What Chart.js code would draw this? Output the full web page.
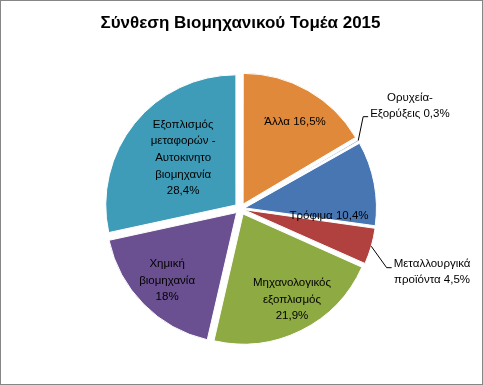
<!DOCTYPE html>
<html><head><meta charset="utf-8">
<script src="https://cdn.jsdelivr.net/npm/chart.js@4/dist/chart.umd.min.js"></script>
<style>
html,body{margin:0;padding:0;background:#fff;}
#wrap{position:relative;width:483px;height:385px;box-sizing:border-box;border:1px solid #868686;background:#fff;}
canvas{display:block;}
</style></head><body>
<div id="wrap"><canvas id="c" width="481" height="383"></canvas></div>
<script>
// ---- data ----
const categories = ["Άλλα", "Ορυχεία-Εξορύξεις", "Τρόφιμα", "Μεταλλουργικά προϊόντα", "Μηχανολογικός εξοπλισμός", "Χημική βιομηχανία", "Εξοπλισμός μεταφορών - Αυτοκινητο βιομηχανία"];
const values = [16.5, 0.3, 10.4, 4.5, 21.9, 18, 28.4];
const labelLines = [
  ["Άλλα 16,5%"],
  ["Ορυχεία-", "Εξορύξεις 0,3%"],
  ["Τρόφιμα 10,4%"],
  ["Μεταλλουργικά", "προϊόντα 4,5%"],
  ["Μηχανολογικός", "εξοπλισμός", "21,9%"],
  ["Χημική", "βιομηχανία", "18%"],
  ["Εξοπλισμός", "μεταφορών -", "Αυτοκινητο", "βιομηχανία", "28,4%"]
];
const titleText = "Σύνθεση Βιομηχανικού Τομέα 2015";

// ---- styling / layout ----
const colors = ["#E0893B", "#9DB8DC", "#4876B2", "#B0413E", "#8EAA42", "#6B5091", "#3F9CB9"];
const explode = 6; // desired visual explosion in px
// Chart.js draws offset/4 plus an extra for thin slices; compensate so all slices move ~explode px
const total = values.reduce((s, v) => s + v, 0);
const offsets = values.map(v => {
  const c = v / total * 2 * Math.PI;
  const fix = 1 - Math.sin(Math.min(Math.PI, c));
  return 4 * explode / (1 + fix);
});
// label placement: polar (deg clockwise from top, fraction of outer radius)
const placement = [
  {a: 32.1, r: 0.79},
  {a: 58.7, r: 1.525, leader: true, leaderDy: 11},
  {a: 94.5, r: 0.683},
  {a: 108.2, r: 1.551, leader: true, leaderDy: -4},
  {a: 150.5, r: 0.804},
  {a: 225.6, r: 0.79},
  {a: 311.6, r: 0.59}
];
const labelFont = "11.5px 'Liberation Sans', Arial, sans-serif";
const lineH = 16.6;

const labelPlugin = {
  id: 'pieLabels',
  afterDatasetsDraw(chart) {
    const ctx = chart.ctx;
    const meta = chart.getDatasetMeta(0);
    ctx.save();
    ctx.font = labelFont;
    ctx.fillStyle = "#000";
    ctx.textAlign = "center";
    ctx.textBaseline = "middle";
    meta.data.forEach((arc, i) => {
      const p = arc.getProps(['x', 'y', 'startAngle', 'endAngle', 'outerRadius'], true);
      const R = p.outerRadius;
      const pl = placement[i];
      const ang = pl.a * Math.PI / 180;
      const cx = p.x + Math.sin(ang) * pl.r * R;
      const cy = p.y - Math.cos(ang) * pl.r * R;
      const lines = labelLines[i];
      const n = lines.length;
      lines.forEach((t, k) => {
        ctx.fillText(t, cx, cy + (k - (n - 1) / 2) * lineH);
      });
      if (pl.leader) {
        const mid = (p.startAngle + p.endAngle) / 2;
        const sx = p.x + Math.cos(mid) * (R + explode);
        const sy = p.y + Math.sin(mid) * (R + explode);
        let w = 0;
        lines.forEach(t => { w = Math.max(w, ctx.measureText(t).width); });
        const ex = cx - w / 2 - 2;
        const ey = cy + pl.leaderDy;
        ctx.beginPath();
        ctx.strokeStyle = "#000";
        ctx.lineWidth = 1;
        ctx.moveTo(sx, sy);
        ctx.lineTo(ex - 5, ey);
        ctx.lineTo(ex, ey);
        ctx.stroke();
      }
    });
    ctx.restore();
  }
};

new Chart(document.getElementById('c'), {
  type: 'pie',
  data: {
    labels: categories,
    datasets: [{
      data: values,
      backgroundColor: colors,
      borderColor: "#ffffff",
      borderWidth: 1,
      offset: offsets
    }]
  },
  options: {
    responsive: false,
    animation: false,
    layout: {padding: {left: 60, right: 62, top: 0, bottom: 33}},
    plugins: {
      legend: {display: false},
      tooltip: {enabled: false},
      title: {
        display: true,
        text: titleText,
        color: "#000",
        font: {family: "'Liberation Sans', Arial, sans-serif", size: 17, weight: 'bold'},
        padding: {top: 12, bottom: 33}
      }
    }
  },
  plugins: [labelPlugin]
});
</script>
</body></html>
